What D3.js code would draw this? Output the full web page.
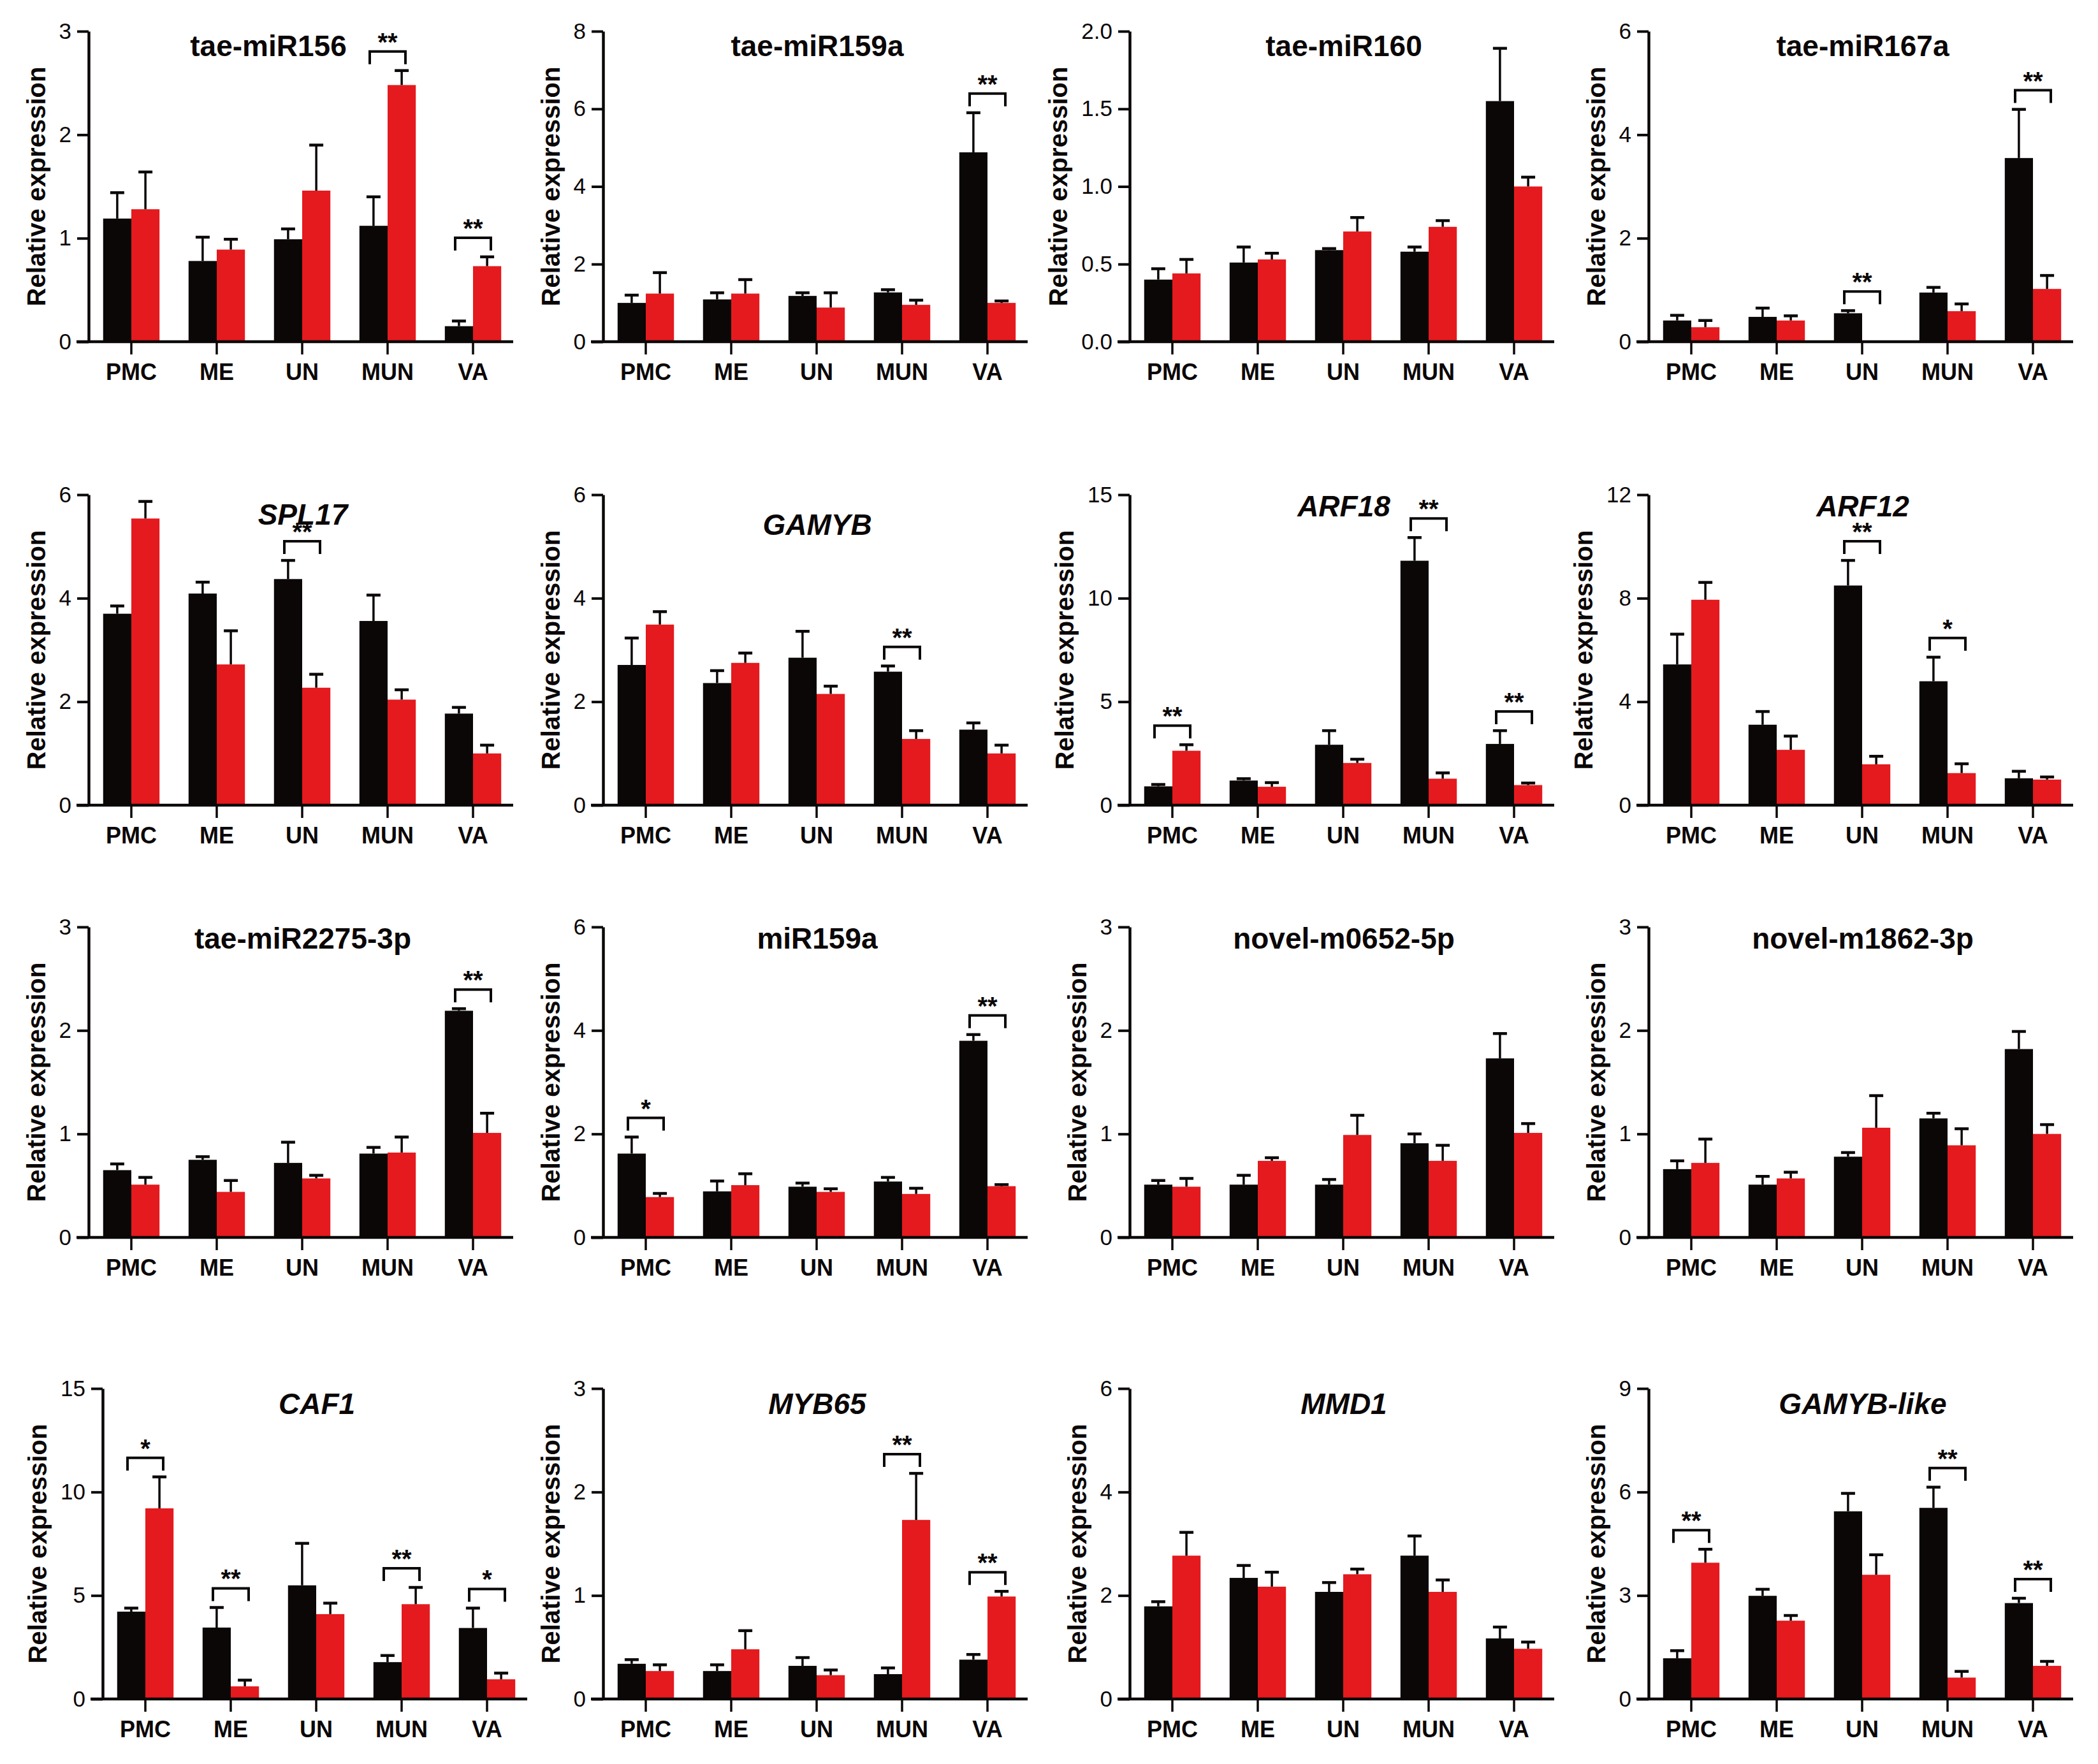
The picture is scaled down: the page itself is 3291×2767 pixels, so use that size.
<!DOCTYPE html>
<html lang="en">
<head>
<meta charset="UTF-8">
<title>Relative expression</title>
<script src="https://cdn.jsdelivr.net/npm/d3@7"></script>
<style>
  body { margin: 0; background: #fff; }
  svg { display: block; font-family: Arial, "Liberation Sans", sans-serif; }
</style>
</head>
<body>
<div id="chart"></div>
<script>
// ---- data ----
const groups = ["PMC", "ME", "UN", "MUN", "VA"];
const titles = [
  "tae-miR156", "tae-miR159a", "tae-miR160", "tae-miR167a",
  "SPL17", "GAMYB", "ARF18", "ARF12",
  "tae-miR2275-3p", "miR159a", "novel-m0652-5p", "novel-m1862-3p",
  "CAF1", "MYB65", "MMD1", "GAMYB-like"
];
const italicTitle = [false, false, false, false, true, true, true, true,
  false, false, false, false, true, true, true, true];
const yMax = [3, 8, 2, 6, 6, 6, 15, 12, 3, 6, 3, 3, 15, 3, 6, 9];
const yStep = [1, 2, 0.5, 2, 2, 2, 5, 4, 1, 2, 1, 1, 5, 1, 2, 3];

const blackMean = [
  [1.19, 0.78, 0.99, 1.12, 0.15],
  [1.00, 1.09, 1.18, 1.27, 4.88],
  [0.40, 0.51, 0.59, 0.58, 1.55],
  [0.41, 0.48, 0.55, 0.95, 3.55],
  [3.70, 4.09, 4.37, 3.56, 1.77],
  [2.71, 2.36, 2.85, 2.58, 1.46],
  [0.91, 1.19, 2.92, 11.81, 2.96],
  [5.44, 3.11, 8.49, 4.79, 1.04],
  [0.65, 0.75, 0.72, 0.81, 2.19],
  [1.62, 0.89, 0.98, 1.08, 3.80],
  [0.51, 0.51, 0.51, 0.91, 1.73],
  [0.66, 0.51, 0.78, 1.15, 1.82],
  [4.22, 3.45, 5.49, 1.78, 3.43],
  [0.34, 0.27, 0.32, 0.24, 0.38],
  [1.79, 2.34, 2.07, 2.77, 1.17],
  [1.18, 2.99, 5.44, 5.54, 2.78]
];
const blackSd = [
  [0.25, 0.23, 0.10, 0.28, 0.05],
  [0.20, 0.17, 0.08, 0.07, 1.02],
  [0.07, 0.10, 0.01, 0.03, 0.34],
  [0.10, 0.17, 0.05, 0.10, 0.94],
  [0.15, 0.22, 0.36, 0.50, 0.12],
  [0.52, 0.24, 0.51, 0.11, 0.13],
  [0.09, 0.09, 0.68, 1.12, 0.64],
  [1.17, 0.51, 0.97, 0.93, 0.27],
  [0.06, 0.03, 0.20, 0.06, 0.02],
  [0.32, 0.20, 0.07, 0.08, 0.12],
  [0.04, 0.09, 0.05, 0.09, 0.24],
  [0.08, 0.08, 0.04, 0.05, 0.17],
  [0.17, 0.97, 2.03, 0.32, 0.96],
  [0.04, 0.06, 0.08, 0.06, 0.05],
  [0.09, 0.24, 0.18, 0.38, 0.22],
  [0.22, 0.19, 0.52, 0.60, 0.14]
];
const redMean = [
  [1.28, 0.89, 1.46, 2.48, 0.73],
  [1.24, 1.24, 0.88, 0.95, 1.00],
  [0.44, 0.53, 0.71, 0.74, 1.00],
  [0.28, 0.41, 0.00, 0.59, 1.02],
  [5.54, 2.72, 2.27, 2.04, 1.00],
  [3.49, 2.75, 2.15, 1.28, 1.00],
  [2.63, 0.89, 2.04, 1.28, 0.97],
  [7.94, 2.14, 1.58, 1.24, 0.99],
  [0.51, 0.44, 0.57, 0.82, 1.01],
  [0.78, 1.01, 0.88, 0.84, 0.99],
  [0.49, 0.74, 0.99, 0.74, 1.01],
  [0.72, 0.57, 1.06, 0.89, 1.00],
  [9.21, 0.61, 4.10, 4.58, 0.95],
  [0.27, 0.48, 0.23, 1.73, 0.99],
  [2.77, 2.17, 2.41, 2.07, 0.97],
  [3.95, 2.27, 3.60, 0.62, 0.96]
];
const redSd = [
  [0.36, 0.10, 0.44, 0.14, 0.09],
  [0.54, 0.36, 0.38, 0.12, 0.05],
  [0.09, 0.04, 0.09, 0.04, 0.06],
  [0.13, 0.09, 0.00, 0.14, 0.26],
  [0.33, 0.65, 0.26, 0.19, 0.16],
  [0.25, 0.19, 0.15, 0.16, 0.16],
  [0.29, 0.20, 0.18, 0.28, 0.10],
  [0.67, 0.53, 0.31, 0.36, 0.10],
  [0.07, 0.11, 0.03, 0.15, 0.19],
  [0.07, 0.22, 0.06, 0.11, 0.03],
  [0.08, 0.03, 0.19, 0.15, 0.09],
  [0.23, 0.06, 0.31, 0.16, 0.09],
  [1.52, 0.30, 0.53, 0.81, 0.30],
  [0.06, 0.18, 0.05, 0.45, 0.05],
  [0.45, 0.28, 0.10, 0.23, 0.13],
  [0.39, 0.15, 0.58, 0.18, 0.13]
];
const sig = [
  ["", "", "", "**", "**"],
  ["", "", "", "", "**"],
  ["", "", "", "", ""],
  ["", "", "**", "", "**"],
  ["", "", "**", "", ""],
  ["", "", "", "**", ""],
  ["**", "", "", "**", "**"],
  ["", "", "**", "*", ""],
  ["", "", "", "", "**"],
  ["*", "", "", "", "**"],
  ["", "", "", "", ""],
  ["", "", "", "", ""],
  ["*", "**", "", "**", "*"],
  ["", "", "", "**", "**"],
  ["", "", "", "", ""],
  ["**", "", "", "**", "**"]
];

// ---- layout ----
const W = 3291, H = 2767;
const colX = [139, 946, 1772, 2586];
const rowTop = [49, 776, 1454, 2178];
const plotH = 487, plotW = 666;
const shiftX = { 12: 22 };                       // CAF1 axis sits a bit further right
const titleCx = { 0: 282 };                      // title centre from axis, default 336
const titleDy = [39, 39, 39, 39, 47, 63, 34, 34, 34, 34, 34, 34, 40, 40, 40, 40];
const BLACK = "#0b0707", RED = "#e41a1e";

const svg = d3.select("#chart").append("svg")
  .attr("width", W).attr("height", H);
svg.append("rect").attr("width", W).attr("height", H).attr("fill", "#fff");

titles.forEach((t, p) => {
  const x0 = colX[p % 4] + (shiftX[p] || 0);
  const top = rowTop[Math.floor(p / 4)];
  const bottom = top + plotH;
  const g = svg.append("g");

  const x = d3.scaleBand().domain(groups)
    .range([x0, x0 + 670]).paddingInner(0.34).paddingOuter(0.17);
  const xs = d3.scaleBand().domain(["b", "r"]).range([0, x.bandwidth()]);
  const y = d3.scaleLinear().domain([0, yMax[p]]).range([bottom, top]);

  const rows = groups.map((gname, i) => ({
    g: gname,
    bars: [
      { k: "b", v: blackMean[p][i], sd: blackSd[p][i], c: BLACK },
      { k: "r", v: redMean[p][i], sd: redSd[p][i], c: RED }
    ],
    s: sig[p][i]
  }));

  // bars
  rows.forEach(r => {
    r.bars.forEach(b => {
      if (b.v <= 0) return;
      const bx = x(r.g) + xs(b.k);
      g.append("rect")
        .attr("x", bx).attr("width", xs.bandwidth())
        .attr("y", y(b.v)).attr("height", bottom - y(b.v))
        .attr("fill", b.c);
      // upper error bar
      const cx = bx + xs.bandwidth() / 2;
      g.append("line")
        .attr("x1", cx).attr("x2", cx)
        .attr("y1", y(b.v)).attr("y2", y(b.v + b.sd))
        .attr("stroke", BLACK).attr("stroke-width", 3.5);
      g.append("line")
        .attr("x1", cx - 11).attr("x2", cx + 11)
        .attr("y1", y(b.v + b.sd)).attr("y2", y(b.v + b.sd))
        .attr("stroke", BLACK).attr("stroke-width", 4.5);
    });

    // significance bracket
    if (r.s) {
      const cx = x(r.g) + x.bandwidth() / 2;
      const topVal = d3.max(r.bars, b => b.v + b.sd);
      const legB = y(topVal) - 10;
      const lineY = legB - 20;
      g.append("path")
        .attr("d", `M${cx - 28},${legB}V${lineY}H${cx + 28}V${legB}`)
        .attr("fill", "none").attr("stroke", BLACK).attr("stroke-width", 4);
      g.append("text")
        .attr("x", cx).attr("y", lineY - 1)
        .attr("text-anchor", "middle")
        .attr("font-size", 40).attr("font-weight", "bold")
        .attr("fill", BLACK)
        .text(r.s);
    }
  });

  // x axis
  g.append("line")
    .attr("x1", x0 - 19).attr("x2", x0 + plotW)
    .attr("y1", bottom).attr("y2", bottom)
    .attr("stroke", BLACK).attr("stroke-width", 4.5);
  const xa = g.append("g").attr("transform", `translate(0,${bottom})`)
    .call(d3.axisBottom(x).tickSize(20).tickSizeOuter(0));
  xa.select(".domain").remove();
  xa.selectAll(".tick line").attr("stroke", BLACK).attr("stroke-width", 3.5);
  xa.selectAll(".tick text")
    .attr("y", 60).attr("dy", 0)
    .attr("font-size", 36).attr("font-weight", "bold")
    .attr("font-family", "Arial, 'Liberation Sans', sans-serif")
    .attr("fill", BLACK);

  // y axis
  const ticks = d3.range(0, yMax[p] + yStep[p] / 2, yStep[p]);
  const fmt = yStep[p] < 1 ? d3.format(".1f") : d3.format("d");
  const ya = g.append("g").attr("transform", `translate(${x0},0)`)
    .call(d3.axisLeft(y).tickValues(ticks).tickFormat(fmt)
      .tickSize(18).tickSizeOuter(0).tickPadding(9));
  ya.select(".domain").attr("stroke", BLACK).attr("stroke-width", 4.5);
  ya.selectAll(".tick line").attr("stroke", BLACK).attr("stroke-width", 4);
  ya.selectAll(".tick text")
    .attr("font-size", 35)
    .attr("font-family", "Arial, 'Liberation Sans', sans-serif")
    .attr("fill", BLACK);

  // y label placed left of the tick labels
  const bb = ya.node().getBBox();
  const lx = x0 + bb.x - 36;
  g.append("text")
    .attr("transform", `translate(${lx},${(top + bottom) / 2}) rotate(-90)`)
    .attr("text-anchor", "middle")
    .attr("dominant-baseline", "central")
    .attr("font-size", 40).attr("font-weight", "bold")
    .attr("fill", BLACK)
    .text("Relative expression");

  // title
  g.append("text")
    .attr("x", x0 + (titleCx[p] || 336))
    .attr("y", top + titleDy[p])
    .attr("text-anchor", "middle")
    .attr("font-size", 46).attr("font-weight", "bold")
    .attr("font-style", italicTitle[p] ? "italic" : "normal")
    .attr("fill", BLACK)
    .text(t);
});
</script>
</body>
</html>
